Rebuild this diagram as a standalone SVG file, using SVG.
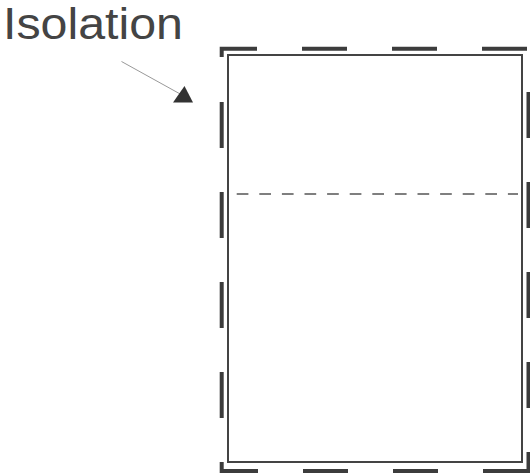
<svg xmlns="http://www.w3.org/2000/svg" width="530" height="473" viewBox="0 0 530 473">
<style>
.lbl{font-family:"Liberation Sans",Arial,sans-serif;font-size:45px;fill:#444}
.outer{fill:none;stroke:#3c3c3c;stroke-width:4;stroke-linejoin:miter}
.inner{fill:none;stroke:#444;stroke-width:2}
.mid{stroke:#555;stroke-width:1.5;stroke-dasharray:11.7 10.9}
.conn{stroke:#999;stroke-width:1}
</style>
<rect width="530" height="473" fill="#fff"/>
<g id="isolation">
<path class="outer" d="M221.7,57 V48.7 H257 M302,48.7 H347 M392,48.7 H437 M482,48.7 H527
M528.5,92 V138 M528.5,182 V228 M528.5,272 V318 M528.5,362 V408
M483,471 H528.5 V452
M221.7,462 V471 H258 M303,471 H348 M393,471 H438
M221.7,102 V148 M221.7,192 V238 M221.7,282 V328 M221.7,372 V418"/>
</g>
<g id="box">
<rect class="inner" x="228" y="55" width="294" height="407"/>
<line class="mid" x1="236.7" y1="194" x2="518" y2="194"/>
</g>
<g id="label">
<text class="lbl" x="3" y="39" textLength="180" lengthAdjust="spacingAndGlyphs">Isolation</text>
</g>
<g id="connectors">
<line class="conn" x1="121.5" y1="61.5" x2="182" y2="95"/>
<polygon points="184.5,86 173,102.5 193,102.5" fill="#333"/>
</g>
</svg>
